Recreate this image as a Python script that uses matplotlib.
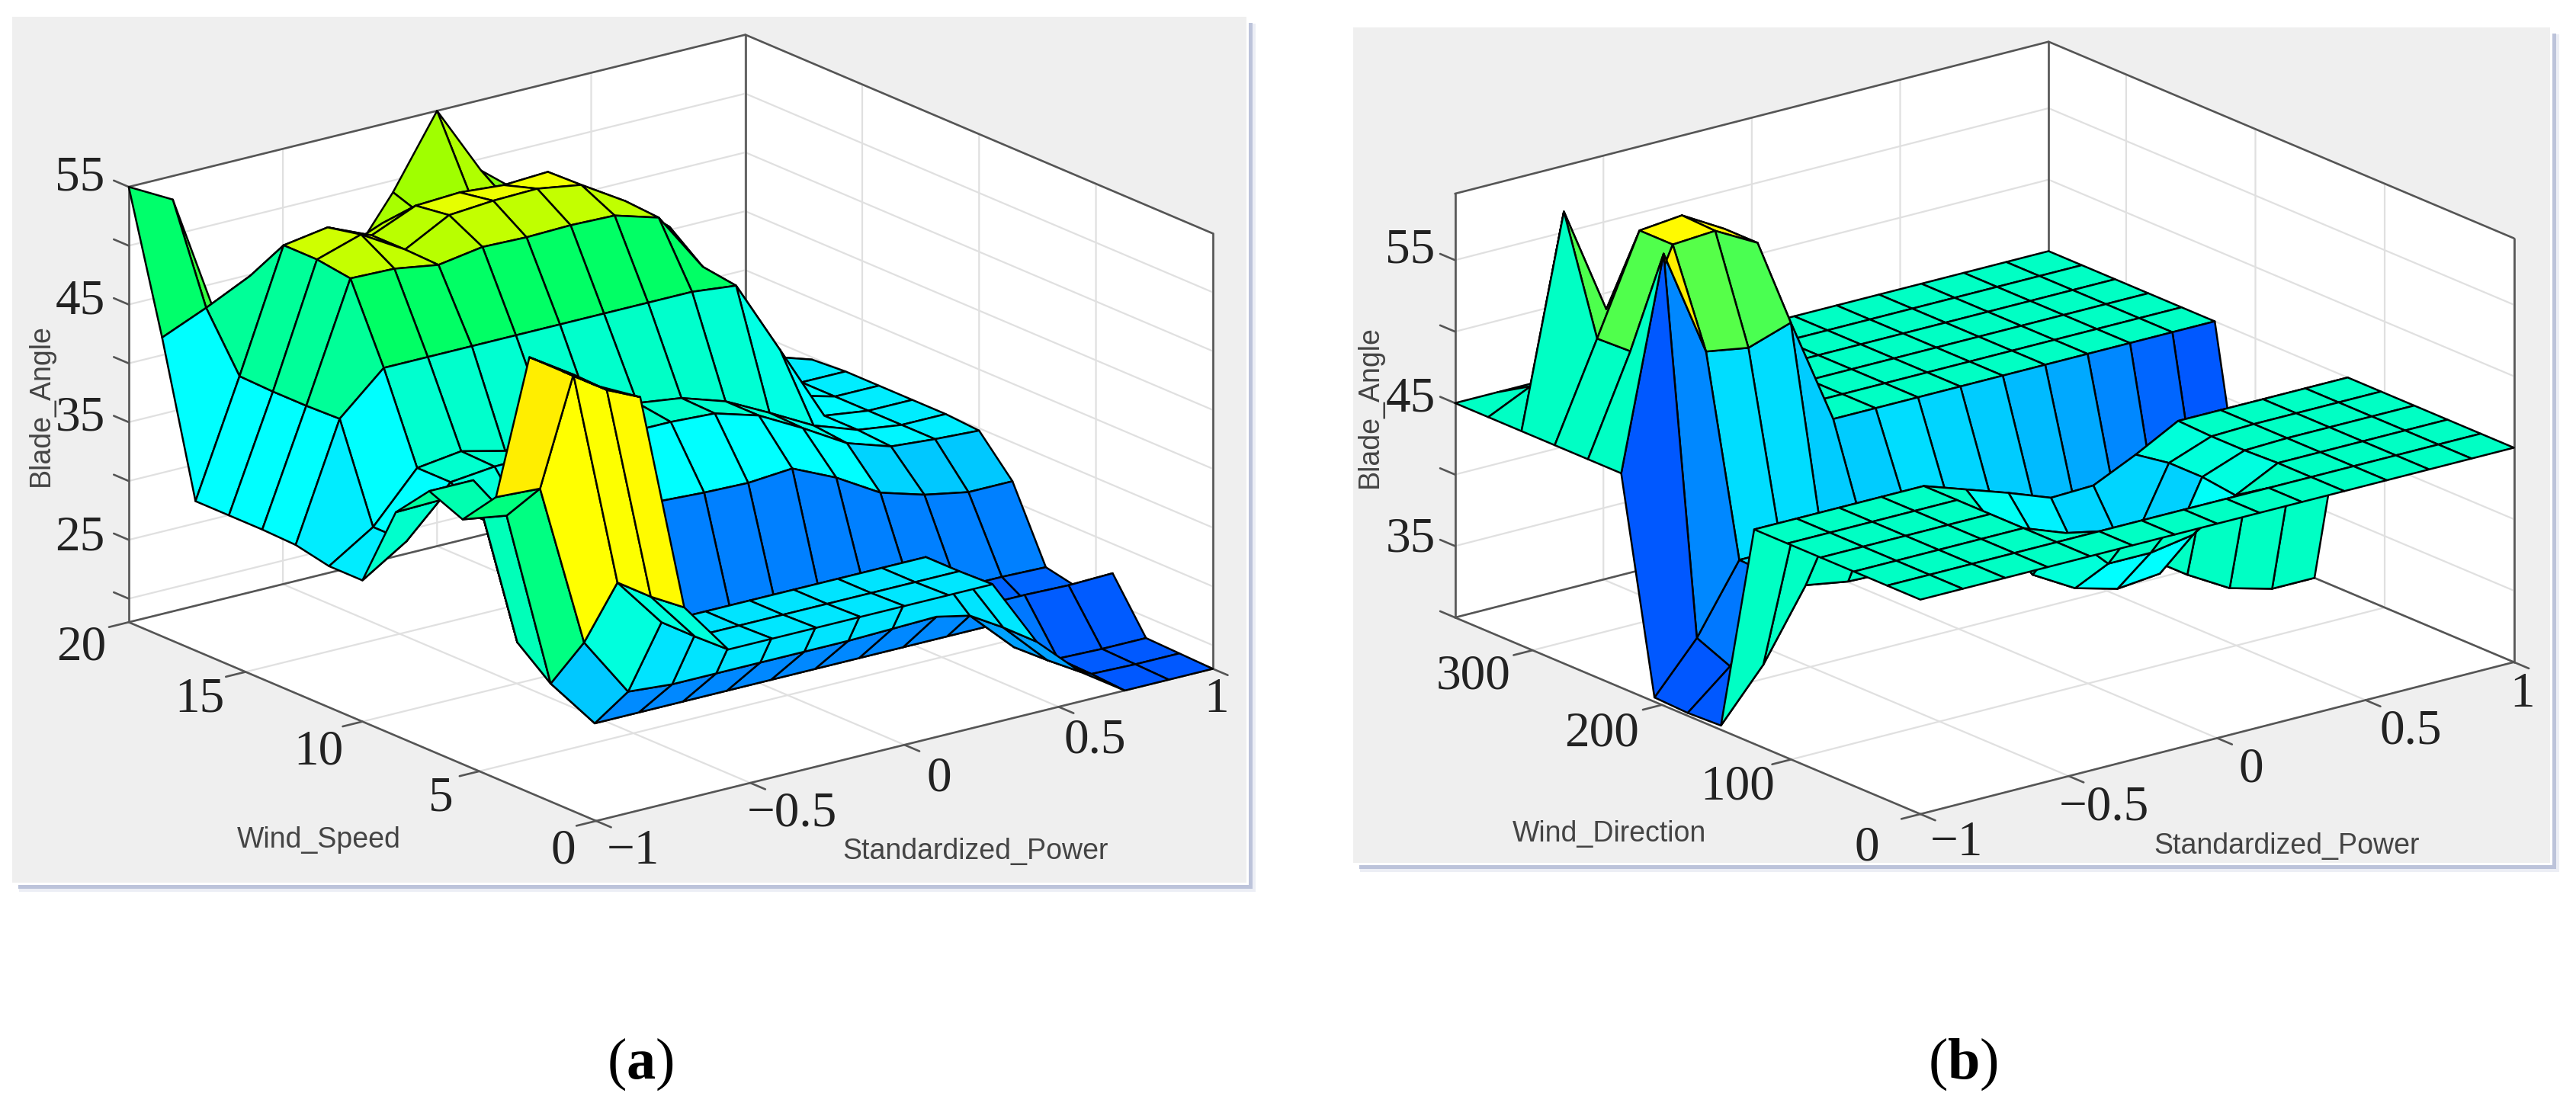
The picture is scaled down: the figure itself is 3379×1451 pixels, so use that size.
import numpy as np
import matplotlib
matplotlib.use("Agg")
import matplotlib.pyplot as plt
from matplotlib.colors import LinearSegmentedColormap, Normalize
from matplotlib.patches import Rectangle
from mpl_toolkits.mplot3d import proj3d

W, H = 3380, 1451
plt.rcParams['mathtext.fontset'] = 'custom'
plt.rcParams['mathtext.rm'] = 'Liberation Serif'
plt.rcParams['mathtext.bf'] = 'Liberation Serif:bold'

# ---------- data ----------
power_a = np.linspace(-1, 1, 15)
speed_a = np.linspace(0, 20, 15)
blade_a = np.array([
    [55, 53.1, 34.3, 29.8, 29.8, 29.8, 29.8, 29.8, 29.8, 29.8, 24, 20.5, 18, 18, 18],
    [55, 52.5, 34, 29.7, 29.7, 29.7, 29.7, 29.7, 29.7, 29.7, 24, 20.3, 18.2, 18.1, 18.1],
    [55, 52.6, 34, 29.7, 29.7, 29.7, 29.7, 29.7, 29.7, 29.7, 23.8, 20.2, 18.3, 18.2, 18.2],
    [41.9, 41.7, 27.7, 22.6, 22.3, 22.3, 22.3, 22.3, 22.3, 22.4, 22.5, 22.5, 22.5, 22.4, 22.5],
    [38.8, 38.2, 23, 18.7, 18.7, 18.7, 18.7, 18.7, 18.7, 18.7, 18.7, 18.7, 18.7, 19, 20],
    [40, 40, 25.3, 20.7, 20.7, 20.7, 20.7, 20.7, 20.7, 20.7, 20.7, 20.7, 20.7, 20.7, 20.6],
    [37, 37.1, 34.5, 33, 32.5, 32.4, 32.4, 32.2, 32.1, 32.4, 30.7, 28.5, 27.4, 26.7, 26.7],
    [30, 32.4, 36.5, 36.9, 37, 37, 37, 37, 36.8, 35.7, 33.7, 31.5, 30.3, 30, 29.8],
    [30, 32.4, 36.5, 37, 36.1, 37, 37, 37.4, 36.9, 35.7, 33.8, 31.8, 30.5, 30, 30],
    [30.6, 40.4, 43.8, 43.8, 43.8, 43.8, 43.8, 43.8, 43.8, 43.8, 43.4, 37, 30.5, 30, 30],
    [30.7, 40.3, 50.2, 50.1, 49.5, 50.1, 50, 50.1, 50, 48.9, 43.8, 38, 31, 30, 30],
    [30.7, 40.3, 50.6, 51.8, 49.6, 51.6, 51.9, 52, 51.4, 49.1, 46, 40, 32, 30, 30],
    [30.7, 40.4, 50.6, 51.2, 49.6, 51.2, 51.4, 51.1, 51.3, 47, 44, 40, 33, 31, 29.8],
    [43.4, 45, 46.8, 46, 47, 48.5, 48, 49, 47, 44, 42, 38, 30, 28, 28],
    [55, 53, 42, 40, 41, 44, 49, 55, 49, 46, 42, 36, 28, 27, 27],
])

power_b = np.linspace(-1, 1, 15)
direction_b = np.linspace(0, 360, 15)
blade_b = np.array([
    [45] * 15,
    [45] * 15,
    [45, 45, 45, 45, 45, 43.9, 41, 41, 41.5, 43.5, 45, 45, 45, 45, 45],
    [45, 45, 45, 45, 45, 40, 38.3, 37.5, 37.8, 43.8, 44.9, 45, 45, 45, 45],
    [45, 45, 45, 45, 45, 42, 40, 38, 38, 43.8, 44.9, 45, 45, 45, 45],
    [45, 45, 45, 45, 45, 44, 43, 41.9, 42, 43.4, 45, 45, 45, 45, 45],
    [30.3, 33.8, 38.6, 38.1, 38, 38, 38, 38, 38, 37, 34.5, 32.5, 30.8, 30, 30],
    [30.2, 32.7, 38.3, 38, 38, 38, 38, 38, 37.5, 36.5, 35, 33, 31, 30, 30],
    [30.3, 33.7, 38.4, 38.4, 37.5, 37.5, 38.4, 38, 37.5, 36.5, 35, 33.7, 31.5, 30.3, 30],
    [45, 59.6, 52, 51.5, 52.5, 45, 45, 45, 45, 45, 45, 45, 45, 45, 45],
    [45, 51.8, 58.5, 58.7, 57.1, 45, 45, 45, 45, 45, 45, 45, 45, 45, 45],
    [45, 51.7, 58.5, 58.8, 57.1, 45, 45, 45, 45, 45, 45, 45, 45, 45, 45],
    [45, 59.6, 52, 50, 48, 45, 45, 45, 45, 45, 45, 45, 45, 45, 45],
    [45, 46.4, 45, 45, 45, 45, 45, 45, 45, 45, 45, 45, 45, 45, 45],
    [45] * 15,
])

power_ticks = [-1, -0.5, 0, 0.5, 1]
power_labels = ['\u22121', '\u22120.5', '0', '0.5', '1']
speed_ticks = [0, 5, 10, 15, 20]
speed_labels = ['0', '5', '10', '15', '20']
direction_ticks = [0, 100, 200, 300]
direction_labels = ['0', '100', '200', '300']
angle_ticks_a = [20, 25, 30, 35, 40, 45, 50, 55]
angle_labels_a = ['', '25', '', '35', '', '45', '', '55']
angle_ticks_b = [30, 35, 40, 45, 50, 55]
angle_labels_b = ['', '35', '', '45', '', '55']

# ---------- colours ----------
stops_a = [(18, '#0058ff'), (20.7, '#0080ff'), (22.4, '#0088ff'), (26.5, '#00c8ff'),
           (27.7, '#00c8ff'), (29.7, '#00e4ff'), (30.6, '#00ffff'), (33, '#00ffff'),
           (34, '#00ffdd'), (37, '#00ffcc'), (40.3, '#00ff99'), (41.8, '#00ff80'),
           (43.8, '#00ff66'), (46, '#60ff20'), (48, '#a0ff00'), (50, '#c0ff00'),
           (52, '#f0ff00'), (52.6, '#ffff00'), (55, '#ffee00')]
stops_b = [(30, '#0055ff'), (31.5, '#0066ff'), (33.7, '#0088ff'), (35, '#00aaff'),
           (36.5, '#00bbff'), (37.5, '#00ccff'), (38.4, '#00ddff'), (41, '#00ffff'),
           (43.5, '#00ffe0'), (45, '#00ffc4'), (47, '#00ffb0'), (51.7, '#4dff4d'),
           (58, '#ffff00'), (59.6, '#ffee00')]
EDGE = '#555555'


def make_cmap(stops):
    lo, hi = stops[0][0], stops[-1][0]
    return (LinearSegmentedColormap.from_list('c', [((v - lo) / (hi - lo), c) for v, c in stops], N=1024),
            Normalize(lo, hi))


fig = plt.figure(figsize=(W / 100, H / 100), dpi=100, facecolor='white')


def box(x0, y0, x1, y1, col, z):
    fig.add_artist(Rectangle((x0 / W, 1 - y1 / H), (x1 - x0) / W, (y1 - y0) / H,
                             transform=fig.transFigure, fc=col, ec='none', zorder=z))


def panel(x0, y0, x1, y1):
    box(x0 + 9, y0 + 9, x1 + 12, y1 + 12, '#eceef5', -5)
    box(x0 + 8, y0 + 8, x1 + 8, y1 + 8, '#bcc3da', -4)
    box(x0, y0, x1 + 3, y1 + 3, '#ffffff', -3)
    box(x0, y0, x1, y1, '#efefef', -2)


def to_px(ax, x, y, z):
    u, v, _ = proj3d.proj_transform(x, y, z, ax.get_proj())
    d = ax.transData.transform((u, v))
    return d[0], H - d[1]


def place(ax, corner_mid, corner_r, corner_l, target_mid, target_r, target_l):
    side = 1800.0
    pos = [(target_l[0]) / W, 0.0, side / W, side / H]
    for _ in range(4):
        ax.set_position(pos)
        ax.apply_aspect()
        l = to_px(ax, *corner_l)
        r = to_px(ax, *corner_r)
        s = (target_r[0] - target_l[0]) / (r[0] - l[0])
        pos = [pos[0], pos[1], pos[2] * s, pos[3] * s]
        ax.set_position(pos)
        ax.apply_aspect()
        m = to_px(ax, *corner_mid)
        pos[0] += (target_mid[0] - m[0]) / W
        pos[1] -= (target_mid[1] - m[1]) / H
    ax.set_position(pos)
    ax.apply_aspect()


def surface(xs, ys, zs, xlim, ylim, zlim, xticks, yticks, zticks, stops, elev, azim, aspect,
            target_mid, target_r, target_l):
    ax = fig.add_axes([0, 0, 1, 1], projection='3d', proj_type='ortho')
    ax.computed_zorder = False
    ax.patch.set_visible(False)
    ax.view_init(elev=elev, azim=azim)
    ax.set_box_aspect(aspect)
    X, Y = np.meshgrid(xs, ys)
    cmap, norm = make_cmap(stops)
    ax.plot_surface(X, Y, zs, rstride=1, cstride=1, facecolors=cmap(norm(zs)), shade=False,
                    edgecolor='black', linewidth=1.8, antialiased=True, zorder=3)
    ax.set_xlim(*xlim)
    ax.set_ylim(*ylim)
    ax.set_zlim(*zlim)
    ax.set_xticks(xticks)
    ax.set_yticks(yticks)
    ax.set_zticks(zticks)
    ax.set_xticklabels([])
    ax.set_yticklabels([])
    ax.set_zticklabels([])
    for axis in (ax.xaxis, ax.yaxis, ax.zaxis):
        axis.set_pane_color('white')
        axis.pane.set_edgecolor('none')
        axis.line.set_color((0, 0, 0, 0))
        axis._axinfo['tick']['inward_factor'] = 0
        axis._axinfo['tick']['outward_factor'] = 0
        axis._axinfo['grid'].update(color='#e0e0e0', linewidth=1.6, linestyle='-')
    line = dict(color=EDGE, lw=1.9, clip_on=False, zorder=2, solid_capstyle='round')
    dx = 0.032 * (xlim[1] - xlim[0])
    dy = 0.032 * (ylim[1] - ylim[0])
    for v in xticks:
        ax.plot([v, v], [ylim[0], ylim[0] - dy], [zlim[0]] * 2, **line)
    for v in yticks:
        ax.plot([xlim[0], xlim[0] - dx], [v, v], [zlim[0]] * 2, **line)
    for v in zticks:
        ax.plot([xlim[0], xlim[0]], [ylim[1], ylim[1] + dy], [v, v], **line)
    xa, xb, ya, yb, za, zb = *xlim, *ylim, *zlim
    for seg in [((xa, xb), (ya, ya), (za, za)), ((xa, xa), (ya, yb), (za, za)),
                ((xa, xb), (yb, yb), (za, za)), ((xb, xb), (ya, yb), (za, za)),
                ((xa, xb), (yb, yb), (zb, zb)), ((xb, xb), (ya, yb), (zb, zb)),
                ((xa, xa), (yb, yb), (za, zb)), ((xb, xb), (yb, yb), (za, zb)),
                ((xb, xb), (ya, ya), (za, zb))]:
        ax.plot(*seg, **line)
    place(ax, (xa, ya, za), (xb, ya, za), (xa, yb, za), target_mid, target_r, target_l)
    return ax


def label(px, py, s, **kw):
    return fig.text(px / W, 1 - py / H, s, ha='center', va='center', **kw)


serif = dict(family='Liberation Serif', fontsize=47, color='#222222')
sans = dict(family='Liberation Sans', fontsize=27, color='#444444')

# ---------- panel (a) ----------
panel(16, 22, 1635, 1158)
surface(power_a, speed_a, blade_a, (-1, 1), (0, 20), (18, 55), power_ticks, speed_ticks, angle_ticks_a,
        stops_a, 18.9, -127.3, (1014, 1009, 602), (782, 1077), (1588, 877), (166, 815))

for s, (px, py) in zip(power_labels, [(830, 1117), (1039, 1068), (1232, 1022), (1436, 972), (1596, 918)]):
    label(px, py, s, **serif)
for s, (px, py) in zip(speed_labels, [(739, 1117), (578, 1048), (418, 987), (262, 918), (107, 850)]):
    label(px, py, s, **serif)
for s, (px, py) in zip(angle_labels_a[1::2], [(105, 706), (105, 549), (105, 396), (105, 234)]):
    label(px, py, s, **serif)
label(418, 1102, 'Wind_Speed', **sans)
label(1280, 1117, 'Standardized_Power', **sans)
label(54, 532, 'Blade_Angle', rotation=90, **sans)
label(840, 1396, r'($\mathbf{a}$)', family='Liberation Serif', fontsize=55, color='black')

# ---------- panel (b) ----------
panel(1775, 36, 3345, 1132)
surface(power_b, direction_b, blade_b, (-1, 1), (0, 360), (30, 59.65), power_ticks, direction_ticks, angle_ticks_b,
        stops_b, 19.2, -127.9, (987, 994, 589), (2519, 1068), (3298, 869), (1909, 810))

for s, (px, py) in zip(power_labels, [(2566, 1106), (2760, 1060), (2953, 1010), (3162, 960), (3309, 911)]):
    label(px, py, s, **serif)
for s, (px, py) in zip(direction_labels, [(2449, 1113), (2279, 1033), (2101, 963), (1933, 888)]):
    label(px, py, s, **serif)
for s, (px, py) in zip(angle_labels_b[1::2], [(1850, 708), (1850, 524), (1850, 329)]):
    label(px, py, s, **serif)
label(2111, 1094, 'Wind_Direction', **sans)
label(3000, 1110, 'Standardized_Power', **sans)
label(1797, 534, 'Blade_Angle', rotation=90, **sans)
label(2575, 1396, r'($\mathbf{b}$)', family='Liberation Serif', fontsize=55, color='black')

fig.savefig('out.png', dpi=100)
